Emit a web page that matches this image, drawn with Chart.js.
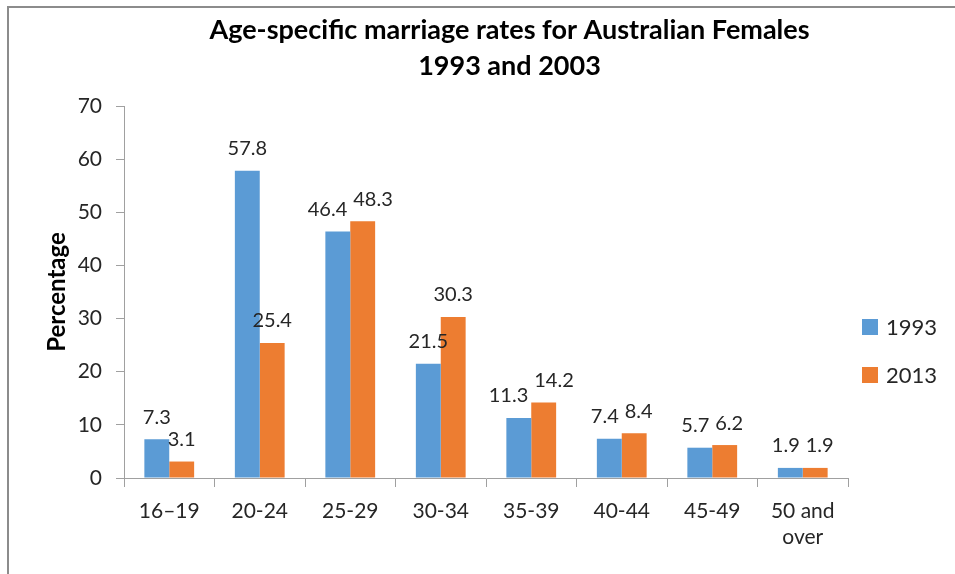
<!DOCTYPE html>
<html><head><meta charset="utf-8">
<script src="https://cdn.jsdelivr.net/npm/chart.js@4"></script>
<style>
html,body{margin:0;padding:0;background:#fff;}
#wrap{position:absolute;left:0;top:0;width:955px;height:574px;}
#frame{position:absolute;left:7px;top:6px;width:960px;height:600px;border-top:2px solid #8c8c8c;border-left:2px solid #8c8c8c;}
canvas{position:absolute;left:0;top:0;}
</style></head>
<body>
<div id="wrap"><div id="frame"></div><canvas id="c" width="955" height="574"></canvas></div>
<script>
const categories = ["16\u201319","20-24","25-29","30-34","35-39","40-44","45-49",["50 and","over"]];
const series1993 = [7.3,57.8,46.4,21.5,11.3,7.4,5.7,1.9];
const series2013 = [3.1,25.4,48.3,30.3,14.2,8.4,6.2,1.9];
const seriesNames = ["1993","2013"];
const seriesColors = ['#5B9BD5','#ED7D31'];
const yTicks = [0,10,20,30,40,50,60,70];
const titleLines = ["Age-specific marriage rates for Australian Females","1993 and 2003"];
const FONT = "Lato, 'Open Sans', sans-serif";

const titlePlugin = {
  id:'topTitle',
  afterDraw(chart){
    const ctx = chart.ctx;
    ctx.save();
    ctx.font = "bold 27px " + FONT;
    ctx.fillStyle = "#000";
    ctx.textAlign = "center";
    ctx.textBaseline = "middle";
    const cx = chart.width / 2 + 32;
    titleLines.forEach((t,i)=>ctx.fillText(t, cx, 30 + i*36));
    ctx.restore();
  }
};

const labelPlugin = {
  id:'barLabels',
  afterDatasetsDraw(chart){
    const ctx = chart.ctx;
    ctx.save();
    ctx.font = "20px " + FONT;
    ctx.fillStyle = "#262626";
    ctx.textAlign = "center";
    ctx.textBaseline = "middle";
    const m0 = chart.getDatasetMeta(0).data, m1 = chart.getDatasetMeta(1).data;
    const d0 = chart.data.datasets[0].data, d1 = chart.data.datasets[1].data;
    m0.forEach((b0,j)=>{
      const b1 = m1[j];
      const t0 = d0[j].toFixed(1), t1 = d1[j].toFixed(1);
      let x0 = b0.x, x1 = b1.x;
      const y0 = b0.y - 22, y1 = b1.y - 22;
      const w0 = ctx.measureText(t0).width, w1 = ctx.measureText(t1).width;
      const need = (w0 + w1)/2 + 6;
      if (Math.abs(y0 - y1) < 22 && (x1 - x0) < need) {
        const extra = (need - (x1 - x0)) / 2;
        x0 -= extra; x1 += extra;
      }
      ctx.fillText(t0, x0, y0);
      ctx.fillText(t1, x1, y1);
    });
    ctx.restore();
  }
};

const legendPlugin = {
  id:'sideLegend',
  afterDraw(chart){
    const ctx = chart.ctx, a = chart.chartArea;
    const cy = (a.top + a.bottom)/2;
    ctx.save();
    ctx.font = "22px " + FONT;
    ctx.textBaseline = "middle";
    ctx.textAlign = "left";
    chart.data.datasets.forEach((ds,i)=>{
      const y = cy + 35 + i*48;
      ctx.fillStyle = ds.backgroundColor;
      ctx.fillRect(a.right + 14, y - 8, 16, 16);
      ctx.fillStyle = "#262626";
      ctx.fillText(ds.label, a.right + 38, y + 1);
    });
    ctx.restore();
  }
};

new Chart(document.getElementById('c'),{
  type:'bar',
  data:{
    labels:categories,
    datasets:[
      {label:seriesNames[0],data:series1993,backgroundColor:seriesColors[0],categoryPercentage:0.55,barPercentage:1.0},
      {label:seriesNames[1],data:series2013,backgroundColor:seriesColors[1],categoryPercentage:0.55,barPercentage:1.0}
    ]
  },
  options:{
    responsive:false,
    animation:false,
    layout:{padding:{left:40,right:107,top:106,bottom:0}},
    plugins:{
      title:{display:false},
      legend:{display:false},
      tooltip:{enabled:false}
    },
    scales:{
      x:{
        afterFit(axis){ axis.height = 96; },
        grid:{display:true,offset:true,drawOnChartArea:false,drawTicks:true,tickLength:9,color:'#a0a0a0'},
        border:{display:true,color:'#a0a0a0',width:1},
        ticks:{font:{family:FONT,size:21,lineHeight:1.25},color:'#262626',padding:11,maxRotation:0,autoSkip:false}
      },
      y:{
        min:0,max:70,
        afterBuildTicks(axis){axis.ticks = yTicks.map(v=>({value:v}));},
        afterFit(axis){ axis.width = 84; },
        grid:{display:true,drawOnChartArea:false,drawTicks:true,tickLength:8,color:'#a0a0a0'},
        border:{display:true,color:'#a0a0a0',width:1},
        ticks:{font:{family:FONT,size:21},color:'#262626',padding:14},
        title:{display:true,text:'Percentage',font:{family:FONT,size:24,weight:'bold'},color:'#000',padding:{top:3,bottom:0}}
      }
    }
  },
  plugins:[labelPlugin, legendPlugin, titlePlugin]
});
</script>
</body></html>
